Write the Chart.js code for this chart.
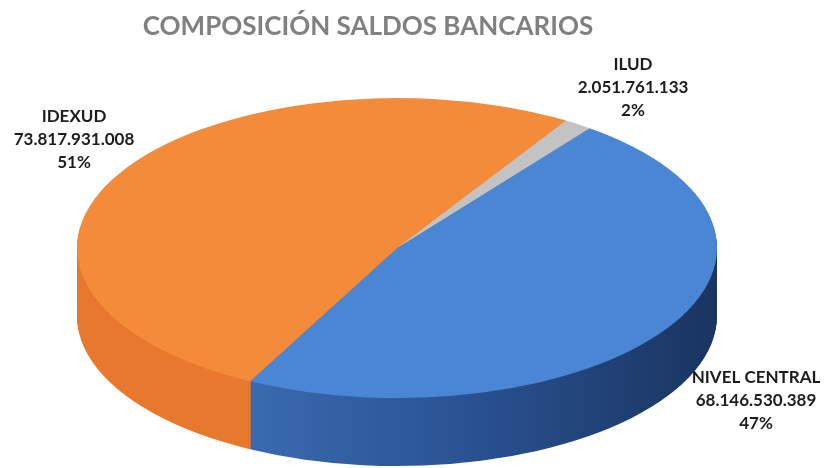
<!DOCTYPE html>
<html>
<head>
<meta charset="utf-8">
<script src="https://cdn.jsdelivr.net/npm/chart.js@4.4.1/dist/chart.umd.min.js"></script>
<style>
  body { margin: 0; background: #fff; }
  #wrap { width: 827px; height: 468px; }
</style>
</head>
<body>
<div id="wrap"><canvas id="chartPie" width="827" height="468"></canvas></div>
<script>
/* Datos del gráfico */
var categorias = ['NIVEL CENTRAL', 'IDEXUD', 'ILUD'];
var saldos = [68146530389, 73817931008, 2051761133];
var porcentajes = ['47%', '51%', '2%'];

var colorTapa = ['#4a86d3', '#f38b3a', '#c3c3c3'];
var titulo = 'COMPOSICIÓN SALDOS BANCARIOS';

// Geometría del "3D": elipse de la tapa y grosor del disco
var CX = 397, CY = 248, RX = 320, RY = 150, GROSOR = 68;

// Donde va cada etiqueta (centro del texto)
var posEtiquetas = [
    { x: 756, y: 378 },  // NIVEL CENTRAL
    { x: 74, y: 117 },   // IDEXUD
    { x: 633, y: 65 }    // ILUD
];

function formatoMiles(n) {
    return String(n).replace(/\B(?=(\d{3})+(?!\d))/g, '.');
}

var pie3d = {
    id: 'pie3d',
    beforeDatasetsDraw: function (chart) {
        var ctx = chart.ctx;
        var arcs = chart.getDatasetMeta(0).data;
        var a0 = arcs[0];
        var R = a0.outerRadius;
        var sx = RX / R, sy = RY / R;

        // color del costado (el azul con degradado)
        var gAzul = ctx.createLinearGradient(a0.x - R * 0.6, 0, a0.x + R, 0);
        gAzul.addColorStop(0, '#3d6fb5');
        gAzul.addColorStop(0.5, '#2a5393');
        gAzul.addColorStop(1, '#1a3460');
        var colorLado = [gAzul, '#e7792f', '#9e9e9e'];

        for (var d = GROSOR; d > 0; d--) {
            ctx.save();
            ctx.translate(CX, CY + d);
            ctx.scale(sx, sy);
            ctx.translate(-a0.x, -a0.y);
            arcs.forEach(function (arc, i) {
                var falso = Object.create(arc);
                falso.options = Object.assign({}, arc.options, { backgroundColor: colorLado[i], borderWidth: 0 });
                falso.draw(ctx);
            });
            ctx.restore();
        }
        // la tapa se dibuja con la misma transformacion
        ctx.save();
        ctx.translate(CX, CY);
        ctx.scale(sx, sy);
        ctx.translate(-a0.x, -a0.y);
    },
    afterDatasetsDraw: function (chart) {
        var ctx = chart.ctx;
        ctx.restore();

        ctx.save();
        ctx.textAlign = 'center';
        ctx.textBaseline = 'middle';
        ctx.fillStyle = '#808080';
        ctx.font = 'bold 26px Lato';
        ctx.fillText(titulo, 368, 27);

        ctx.fillStyle = '#1c1c1c';
        ctx.font = 'bold 17px Lato';
        categorias.forEach(function (c, i) {
            var p = posEtiquetas[i];
            ctx.fillText(c, p.x, p.y);
            ctx.fillText(formatoMiles(saldos[i]), p.x, p.y + 23);
            ctx.fillText(porcentajes[i], p.x, p.y + 46);
        });
        ctx.restore();
    }
};

var pieChart = new Chart(document.getElementById('chartPie'), {
    type: 'pie',
    data: {
        labels: categorias,
        datasets: [{
            data: saldos,
            backgroundColor: colorTapa,
            borderWidth: 0,
            clip: false
        }]
    },
    options: {
        responsive: false,
        animation: false,
        rotation: 37,
        plugins: {
            legend: { display: false },
            tooltip: { enabled: false },
            title: { display: false }
        }
    },
    plugins: [pie3d]
});
</script>
</body>
</html>
